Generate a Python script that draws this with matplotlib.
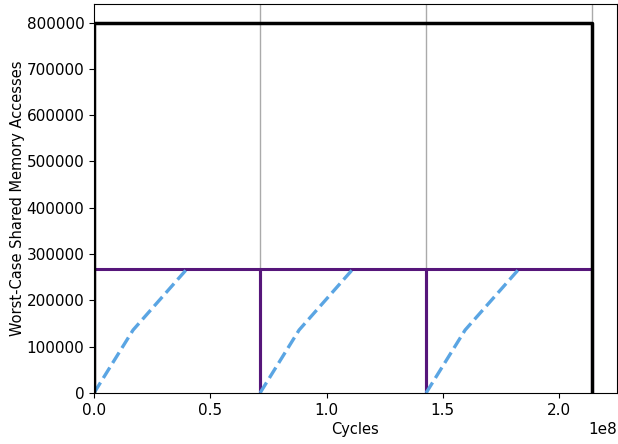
import matplotlib
matplotlib.use('Agg')
import matplotlib.pyplot as plt
from matplotlib.ticker import MultipleLocator

plt.rcParams['font.size'] = 11

# period boundaries (cycles)
period_ends = [0.714e8, 1.428e8, 2.142e8]
total_bound = 800000
period_bound = 268000

# observed accesses within one period (offset from period start)
ramp_x = [0.0, 0.168e8, 0.40e8]
ramp_y = [0, 136000, 268000]

fig = plt.figure(figsize=(6.18, 4.44), dpi=100)
ax = fig.add_axes([94 / 618, 1 - 393 / 444, (617 - 94) / 618, (393 - 4) / 444])

for x in period_ends:
    ax.axvline(x, color='#aaaaaa', linewidth=1, zorder=1)

T = period_ends[-1]
ax.plot([0, 0, T, T], [0, total_bound, total_bound, 0], color='black', linewidth=2.5, zorder=3)

starts = [0] + period_ends[:-1]
for s, e in zip(starts, period_ends):
    ax.plot([s, s, e, e], [0, period_bound, period_bound, 0], color='#56167a', linewidth=2.2, zorder=2)
    ax.plot([s + x for x in ramp_x], ramp_y, color='#5aa5e3', linewidth=2.4,
            linestyle='--', zorder=2)

ax.set_xlim(0, T * 1.05)
ax.set_ylim(0, total_bound * 1.05)
ax.xaxis.set_major_locator(MultipleLocator(0.5e8))
ax.set_xlabel('Cycles', fontsize=10.5, labelpad=3)
ax.set_ylabel('Worst-Case Shared Memory Accesses', fontsize=10.5, labelpad=1)

fig.savefig('out.png', dpi=100)
